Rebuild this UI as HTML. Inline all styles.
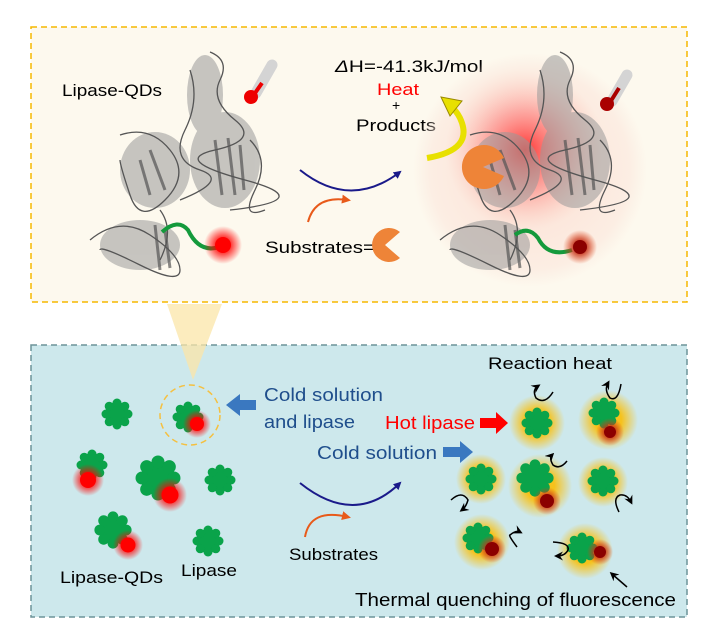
<!DOCTYPE html>
<html><head><meta charset="utf-8"><style>
html,body{margin:0;padding:0;background:#fff}
svg{display:block}
text{font-family:"Liberation Sans",sans-serif}
</style></head><body>
<svg width="715" height="644" viewBox="0 0 715 644" xmlns="http://www.w3.org/2000/svg">
<defs>
<radialGradient id="rg" cx="0.5" cy="0.5" r="0.5"><stop offset="0.35" stop-color="#ff0000" stop-opacity="0.85"/><stop offset="1" stop-color="#ff0000" stop-opacity="0"/></radialGradient>
<radialGradient id="bigred" cx="0.5" cy="0.5" r="0.5"><stop offset="0" stop-color="#ff1a1a" stop-opacity="0.85"/><stop offset="0.5" stop-color="#ff5050" stop-opacity="0.4"/><stop offset="1" stop-color="#ffb0a0" stop-opacity="0"/></radialGradient>
<radialGradient id="halo" cx="0.5" cy="0.5" r="0.5"><stop offset="0" stop-color="#fbd8cc" stop-opacity="0.9"/><stop offset="0.85" stop-color="#fbe6dc" stop-opacity="0.6"/><stop offset="1" stop-color="#fbe6dc" stop-opacity="0"/></radialGradient>
<radialGradient id="yg" cx="0.5" cy="0.5" r="0.5"><stop offset="0.45" stop-color="#f6c21c"/><stop offset="1" stop-color="#f6c21c" stop-opacity="0"/></radialGradient>
<radialGradient id="dr" cx="0.5" cy="0.5" r="0.5"><stop offset="0.3" stop-color="#c0301a"/><stop offset="1" stop-color="#e04010" stop-opacity="0"/></radialGradient>
<marker id="ab" markerWidth="8" markerHeight="8" refX="6" refY="4" orient="auto" markerUnits="userSpaceOnUse"><path d="M0,0 L8,4 L0,8 Z" fill="#1a1a8a"/></marker>
<marker id="ao" markerWidth="9" markerHeight="9" refX="6" refY="4.5" orient="auto" markerUnits="userSpaceOnUse"><path d="M0,0 L9,4.5 L0,9 Z" fill="#e85a1a"/></marker>
<marker id="ak" markerWidth="9" markerHeight="9" refX="6" refY="4.5" orient="auto" markerUnits="userSpaceOnUse"><path d="M0,0 L9,4.5 L0,9 L3,4.5 Z" fill="#000"/></marker>
<g id="cl" fill="#0aa34a"><circle r="12"/><circle cx="11" cy="0" r="4.5"/><circle cx="7.8" cy="7.8" r="4.5"/><circle cx="0" cy="11" r="4.5"/><circle cx="-7.8" cy="7.8" r="4.5"/><circle cx="-11" cy="0" r="4.5"/><circle cx="-7.8" cy="-7.8" r="4.5"/><circle cx="0" cy="-11" r="4.5"/><circle cx="7.8" cy="-7.8" r="4.5"/></g>
<g id="prot">
<g fill="#9a9a9a" opacity="0.55">
<ellipse cx="225" cy="160" rx="35" ry="48"/><ellipse cx="205" cy="95" rx="18" ry="40"/><ellipse cx="155" cy="170" rx="35" ry="38"/><ellipse cx="140" cy="245" rx="40" ry="25"/>
</g>
<g fill="none" stroke="#555" stroke-width="1.3">
<path d="M210,52 Q230,60 220,80 T235,120 T215,150 T245,180 T230,210"/>
<path d="M190,70 Q200,100 185,130 T200,170 T180,200"/>
<path d="M120,135 Q150,125 170,150 T165,200 T130,195 T120,160"/>
<path d="M250,140 Q270,160 255,190 T265,210"/>
<path d="M90,240 Q120,215 150,235 T180,270 T140,265 T100,250"/>
<path d="M160,210 Q175,230 160,260"/>
</g>
<g fill="none" stroke="#555" stroke-width="3" opacity="0.7">
<path d="M215,140 L222,195 M228,138 L235,195 M240,145 L244,190"/><path d="M150,150 L165,190 M140,160 L150,195"/><path d="M155,225 L160,270 M165,230 L170,268"/>
</g>
</g>
</defs>

<rect x="31" y="27" width="656" height="275" fill="#fdf9ee" stroke="#f5b800" stroke-width="1.5" stroke-dasharray="6,4"/>
<rect x="31" y="345" width="656" height="272" fill="#cde8ec" stroke="#6d9499" stroke-width="1.5" stroke-dasharray="6,4"/>
<polygon points="167,304 222,304 193,380" fill="#fbe6a8" opacity="0.75"/>

<use href="#prot"/>
<text x="62" y="96" font-size="17" textLength="100" lengthAdjust="spacingAndGlyphs">Lipase-QDs</text>
<line x1="272" y1="65" x2="256" y2="93" stroke="#d4d4d4" stroke-width="11" stroke-linecap="round"/>
<line x1="262" y1="83" x2="253" y2="96" stroke="#e00" stroke-width="4"/>
<circle cx="251" cy="97" r="7" fill="#e00"/>
<path d="M162,232 Q178,218 188,230 Q200,255 222,246" fill="none" stroke="#149a3c" stroke-width="4"/>
<circle cx="223" cy="245" r="19" fill="url(#rg)"/><circle cx="223" cy="245" r="8" fill="#f00"/>

<path d="M300,170 Q350,210 400,172" fill="none" stroke="#1a1a8a" stroke-width="2" marker-end="url(#ab)"/>
<path d="M308,222 Q315,195 348,200" fill="none" stroke="#e85a1a" stroke-width="2" marker-end="url(#ao)"/>
<text x="265" y="253" font-size="17" textLength="110" lengthAdjust="spacingAndGlyphs">Substrates=</text>
<path d="M385,245 L400,232 A17,17 0 1 0 400,258 Z" fill="#ee8438"/>
<text x="335" y="72" font-size="17" textLength="148" lengthAdjust="spacingAndGlyphs"><tspan font-style="italic">Δ</tspan>H=-41.3kJ/mol</text>
<text x="377" y="95" font-size="17" fill="#f00" textLength="42" lengthAdjust="spacingAndGlyphs">Heat</text>
<text x="392" y="110" font-size="14">+</text>
<text x="356" y="131" font-size="17" textLength="80" lengthAdjust="spacingAndGlyphs">Products</text>

<circle cx="530" cy="170" r="117" fill="url(#halo)"/>
<circle cx="525" cy="150" r="80" fill="url(#bigred)"/>
<use href="#prot" transform="translate(350,0)"/>
<path d="M427,158 Q475,150 460,118 Q456,110 450,106" fill="none" stroke="#e8e000" stroke-width="6"/>
<path d="M441,97 L462,101 L450,116 Z" fill="#e8e000" stroke="#9a8a00" stroke-width="1"/>
<path d="M483,167 L504,158 A22,22 0 1 0 504,176 Z" fill="#ee8438"/>
<line x1="627" y1="75" x2="612" y2="101" stroke="#d4d4d4" stroke-width="11" stroke-linecap="round"/>
<line x1="619" y1="88" x2="609" y2="104" stroke="#a00" stroke-width="4"/>
<circle cx="607" cy="104" r="7" fill="#a00"/>
<path d="M515,235 Q528,225 538,238 Q548,258 572,250" fill="none" stroke="#149a3c" stroke-width="4"/>
<circle cx="580" cy="247" r="17" fill="url(#dr)"/><circle cx="580" cy="247" r="7" fill="#8b0000"/>

<use href="#cl" x="117" y="414"/>
<circle cx="190" cy="415" r="30" fill="none" stroke="#f5c040" stroke-width="1.5" stroke-dasharray="6,4"/>
<use href="#cl" x="188" y="417"/><circle cx="197" cy="424" r="14" fill="url(#rg)"/><circle cx="197" cy="424" r="7" fill="#f00"/>
<use href="#cl" x="92" y="465"/><circle cx="88" cy="480" r="16" fill="url(#rg)"/><circle cx="88" cy="480" r="8" fill="#f00"/>
<use href="#cl" transform="translate(158,478) scale(1.45)"/><circle cx="170" cy="495" r="17" fill="url(#rg)"/><circle cx="170" cy="495" r="8.5" fill="#f00"/>
<use href="#cl" x="220" y="480"/>
<use href="#cl" transform="translate(113,530) scale(1.2)"/><circle cx="128" cy="545" r="15" fill="url(#rg)"/><circle cx="128" cy="545" r="7.5" fill="#f00"/>
<use href="#cl" x="208" y="541"/>
<text x="60" y="583" font-size="17" textLength="103" lengthAdjust="spacingAndGlyphs">Lipase-QDs</text>
<text x="181" y="576" font-size="17" textLength="56" lengthAdjust="spacingAndGlyphs">Lipase</text>

<path d="M256,400 L240,400 L240,394 L226,405 L240,416 L240,410 L256,410 Z" fill="#3a78c0"/>
<text x="264" y="401" font-size="18" fill="#1f4e8c" textLength="119" lengthAdjust="spacingAndGlyphs">Cold solution</text>
<text x="264" y="428" font-size="18" fill="#1f4e8c" textLength="91" lengthAdjust="spacingAndGlyphs">and lipase</text>
<text x="385" y="429" font-size="18" fill="#f00" textLength="90" lengthAdjust="spacingAndGlyphs">Hot lipase</text>
<path d="M480,418 L496,418 L496,412 L508,423 L496,434 L496,428 L480,428 Z" fill="#f00"/>
<text x="317" y="459" font-size="18" fill="#1f4e8c" textLength="120" lengthAdjust="spacingAndGlyphs">Cold solution</text>
<path d="M443,447 L460,447 L460,441 L473,452 L460,463 L460,457 L443,457 Z" fill="#3a78c0"/>
<path d="M300,483 Q355,527 400,483" fill="none" stroke="#1a1a8a" stroke-width="2" marker-end="url(#ab)"/>
<path d="M305,537 Q310,508 348,517" fill="none" stroke="#e85a1a" stroke-width="2" marker-end="url(#ao)"/>
<text x="289" y="560" font-size="17" textLength="89" lengthAdjust="spacingAndGlyphs">Substrates</text>

<text x="488" y="369" font-size="17" textLength="124" lengthAdjust="spacingAndGlyphs">Reaction heat</text>
<circle cx="537" cy="423" r="28" fill="url(#yg)"/><use href="#cl" x="537" y="423"/>
<circle cx="608" cy="420" r="30" fill="url(#yg)"/><use href="#cl" x="604" y="413"/><circle cx="610" cy="432" r="14" fill="url(#dr)"/><circle cx="610" cy="432" r="6" fill="#8b0000"/>
<circle cx="481" cy="479" r="25" fill="url(#yg)"/><use href="#cl" x="481" y="479"/>
<circle cx="540" cy="486" r="32" fill="url(#yg)"/><use href="#cl" transform="translate(535,478) scale(1.2)"/><circle cx="547" cy="501" r="14" fill="url(#dr)"/><circle cx="547" cy="501" r="7" fill="#8b0000"/>
<circle cx="603" cy="482" r="25" fill="url(#yg)"/><use href="#cl" x="603" y="481"/>
<circle cx="482" cy="542" r="28" fill="url(#yg)"/><use href="#cl" x="478" y="538"/><circle cx="492" cy="549" r="14" fill="url(#dr)"/><circle cx="492" cy="549" r="7" fill="#8b0000"/>
<circle cx="585" cy="551" r="28" fill="url(#yg)"/><use href="#cl" x="582" y="548"/><circle cx="600" cy="552" r="13" fill="url(#dr)"/><circle cx="600" cy="552" r="6" fill="#8b0000"/>
<g fill="none" stroke="#000" stroke-width="1.5">
<path d="M553,392 Q545,405 536,398 Q532,390 538,386" marker-end="url(#ak)"/>
<path d="M621,384 Q618,402 610,398 Q604,390 608,383" marker-end="url(#ak)"/>
<path d="M567,461 Q560,470 553,465 Q549,458 552,455" marker-end="url(#ak)"/>
<path d="M451,500 Q462,490 468,500 Q466,507 462,510" marker-end="url(#ak)"/>
<path d="M619,512 Q612,498 620,495 Q627,494 631,502" marker-end="url(#ak)"/>
<path d="M517,547 Q508,535 510,535 Q516,530 520,532" marker-end="url(#ak)"/>
<path d="M553,542 Q570,543 568,550 Q565,556 557,556" marker-end="url(#ak)"/>
</g>
<line x1="627" y1="587" x2="612" y2="574" stroke="#000" stroke-width="1.5" marker-end="url(#ak)"/>
<text x="355" y="606" font-size="18" textLength="321" lengthAdjust="spacingAndGlyphs">Thermal quenching of fluorescence</text>
</svg>
</body></html>
